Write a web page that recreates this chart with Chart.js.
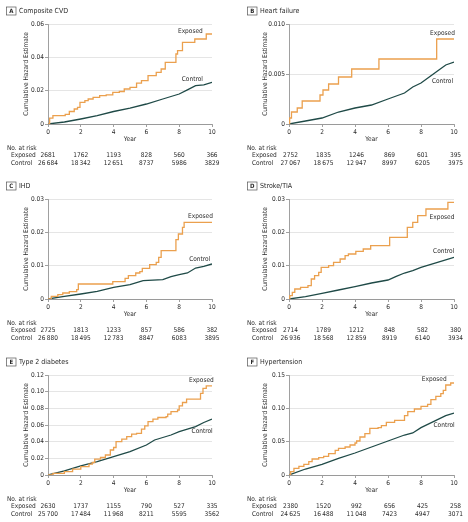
<!DOCTYPE html>
<html>
<head>
<meta charset="utf-8">
<script src="https://cdn.jsdelivr.net/npm/chart.js@4/dist/chart.umd.min.js"></script>
<style>
  body { margin: 0; background: #fff; width: 468px; height: 522px; position: relative; overflow: hidden; }
  canvas { position: absolute; }
</style>
</head>
<body>
<canvas id="pA" width="234" height="175" style="left:0;top:0"></canvas>
<canvas id="pB" width="234" height="175" style="left:234px;top:0"></canvas>
<canvas id="pC" width="234" height="175" style="left:0;top:175px"></canvas>
<canvas id="pD" width="234" height="175" style="left:234px;top:175px"></canvas>
<canvas id="pE" width="234" height="175" style="left:0;top:351px"></canvas>
<canvas id="pF" width="234" height="175" style="left:234px;top:351px"></canvas>
<script>
// Year ticks used for the number-at-risk table
const riskYears = [0, 2, 4, 6, 8, 10];

// A Composite CVD
const expAYears = [0, 0.1, 0.3, 1.05, 1.3, 1.6, 1.8, 1.95, 2.25, 2.45, 2.75, 3.15, 3.55, 3.95, 4.35, 4.65, 5.0, 5.4, 5.7, 6.1, 6.6, 6.9, 7.15, 7.8, 7.9, 8.2, 8.95, 9.65, 10];
const expAHaz = [0, 0.0035, 0.005, 0.0058, 0.0075, 0.009, 0.010, 0.013, 0.014, 0.015, 0.016, 0.017, 0.0175, 0.019, 0.0195, 0.021, 0.022, 0.0245, 0.026, 0.029, 0.031, 0.033, 0.037, 0.042, 0.044, 0.049, 0.051, 0.054, 0.054];
const ctlAYears = [0, 1, 2, 3, 4, 5, 6, 7, 7.5, 8, 8.5, 9, 9.5, 10];
const ctlAHaz = [0, 0.0012, 0.003, 0.005, 0.0075, 0.0095, 0.012, 0.015, 0.0165, 0.018, 0.0205, 0.023, 0.0235, 0.025];
const riskAExp = ['2681', '1762', '1193', '828', '560', '366'];
const riskACtl = ['26\u2009684', '18\u2009342', '12\u2009651', '8737', '5986', '3829'];

// B Heart failure
const expBYears = [0, 0.04, 0.15, 0.5, 0.8, 1.88, 2.06, 2.4, 3.0, 3.8, 5.45, 8.95, 10];
const expBHaz = [0, 0.0006, 0.0012, 0.0016, 0.0023, 0.0029, 0.0034, 0.0040, 0.0047, 0.0055, 0.0065, 0.0085, 0.0085];
const ctlBYears = [0, 1, 2, 3, 4, 5, 6, 7, 7.5, 8, 8.5, 9, 9.5, 10];
const ctlBHaz = [0, 0.0003, 0.0006, 0.0012, 0.0016, 0.0019, 0.0025, 0.0031, 0.0037, 0.0041, 0.0047, 0.0053, 0.0059, 0.0062];
const riskBExp = ['2752', '1835', '1246', '869', '601', '395'];
const riskBCtl = ['27\u2009067', '18\u2009675', '12\u2009947', '8997', '6205', '3975'];

// C IHD
const expCYears = [0, 0.2, 0.6, 0.9, 1.3, 1.75, 1.85, 3.95, 4.7, 4.9, 5.35, 5.6, 5.75, 6.2, 6.6, 6.75, 6.9, 7.8, 7.95, 8.2, 8.3, 10];
const expCHaz = [0, 0.0008, 0.0013, 0.0018, 0.0022, 0.0028, 0.0045, 0.0052, 0.0062, 0.007, 0.0078, 0.0082, 0.0092, 0.0103, 0.011, 0.0125, 0.0145, 0.0178, 0.0195, 0.0215, 0.023, 0.023];
const ctlCYears = [0, 1, 2, 3, 4, 5, 5.8, 7, 7.5, 8, 8.5, 9, 9.5, 10];
const ctlCHaz = [0, 0.0008, 0.0015, 0.0023, 0.0035, 0.0043, 0.0055, 0.0058, 0.0067, 0.0073, 0.0078, 0.0093, 0.0098, 0.0105];
const riskCExp = ['2725', '1813', '1233', '857', '586', '382'];
const riskCCtl = ['26\u2009880', '18\u2009495', '12\u2009783', '8847', '6083', '3895'];

// D Stroke/TIA
const expDYears = [0, 0.05, 0.2, 0.35, 0.7, 1.15, 1.35, 1.55, 1.8, 1.95, 2.4, 2.7, 3.1, 3.4, 3.6, 4.05, 4.5, 4.95, 6.1, 7.17, 7.5, 7.8, 8.3, 9.63, 10];
const expDHaz = [0, 0.001, 0.002, 0.003, 0.0035, 0.004, 0.006, 0.007, 0.008, 0.0095, 0.010, 0.011, 0.012, 0.013, 0.0135, 0.0143, 0.015, 0.016, 0.0185, 0.0215, 0.023, 0.025, 0.027, 0.029, 0.029];
const ctlDYears = [0, 1, 2, 3, 4, 5, 6, 6.5, 7, 7.5, 8, 9, 10];
const ctlDHaz = [0, 0.0007, 0.0017, 0.0027, 0.0037, 0.0048, 0.0057, 0.0068, 0.0078, 0.0085, 0.0095, 0.011, 0.0125];
const riskDExp = ['2714', '1789', '1212', '848', '582', '380'];
const riskDCtl = ['26\u2009936', '18\u2009568', '12\u2009859', '8919', '6140', '3934'];

// E Type 2 diabetes
const expEYears = [0, 0.3, 1.0, 1.5, 2.0, 2.5, 2.7, 2.85, 3.2, 3.5, 3.8, 4.0, 4.15, 4.5, 4.8, 5.1, 5.4, 5.7, 5.9, 6.1, 6.4, 6.7, 7.2, 7.3, 7.5, 7.9, 8.0, 8.2, 8.45, 9.3, 9.45, 9.65, 10];
const expEHaz = [0, 0.002, 0.004, 0.007, 0.010, 0.013, 0.015, 0.019, 0.021, 0.024, 0.030, 0.033, 0.040, 0.043, 0.046, 0.049, 0.050, 0.055, 0.059, 0.064, 0.067, 0.069, 0.070, 0.073, 0.076, 0.078, 0.083, 0.087, 0.091, 0.098, 0.104, 0.107, 0.107];
const ctlEYears = [0, 1, 2, 3, 4, 5, 6, 6.5, 7, 7.5, 8, 8.5, 9, 9.5, 10];
const ctlEHaz = [0, 0.005, 0.011, 0.016, 0.022, 0.028, 0.036, 0.042, 0.045, 0.048, 0.052, 0.055, 0.058, 0.063, 0.067];
const riskEExp = ['2630', '1737', '1155', '790', '527', '335'];
const riskECtl = ['25\u2009700', '17\u2009484', '11\u2009968', '8211', '5595', '3562'];

// F Hypertension
const expFYears = [0, 0.1, 0.3, 0.6, 0.9, 1.2, 1.4, 1.8, 2.1, 2.4, 2.8, 3.0, 3.4, 3.7, 4.0, 4.1, 4.3, 4.6, 4.9, 5.4, 5.6, 5.9, 6.4, 7.0, 7.2, 7.6, 8.0, 8.4, 8.6, 8.9, 9.2, 9.35, 9.5, 9.8, 10];
const expFHaz = [0, 0.005, 0.010, 0.013, 0.016, 0.020, 0.024, 0.026, 0.028, 0.032, 0.037, 0.040, 0.042, 0.045, 0.048, 0.051, 0.057, 0.062, 0.070, 0.071, 0.074, 0.079, 0.082, 0.089, 0.095, 0.099, 0.103, 0.106, 0.113, 0.118, 0.122, 0.127, 0.135, 0.138, 0.138];
const ctlFYears = [0, 1, 2, 3, 4, 5, 6, 7, 7.5, 8, 8.5, 9, 9.5, 10];
const ctlFHaz = [0, 0.009, 0.016, 0.025, 0.033, 0.042, 0.051, 0.060, 0.063, 0.071, 0.077, 0.083, 0.089, 0.093];
const riskFExp = ['2380', '1520', '992', '656', '425', '258'];
const riskFCtl = ['24\u2009625', '16\u2009488', '11\u2009048', '7423', '4947', '3071'];

const EXP_COLOR = '#EBA04E';
const CTL_COLOR = '#1F4A47';
const TEXT = '#2a2a2a';
const FONT = "'Liberation Sans Narrow', 'DejaVu Sans Condensed', 'Liberation Sans', sans-serif";

// panel setup: col 0 = left column, col 1 = right column
const panels = [
  {id: 'pA', tag: 'A', title: 'Composite CVD', col: 0, yMax: 0.06, yStep: 0.02, dec: 2,
   expT: expAYears, expV: expAHaz, ctlT: ctlAYears, ctlV: ctlAHaz, riskExp: riskAExp, riskCtl: riskACtl,
   expLabel: [8.68, 0.0554], ctlLabel: [8.8, 0.0268]},
  {id: 'pB', tag: 'B', title: 'Heart failure', col: 1, yMax: 0.010, yStep: 0.005, dec: 3,
   expT: expBYears, expV: expBHaz, ctlT: ctlBYears, ctlV: ctlBHaz, riskExp: riskBExp, riskCtl: riskBCtl,
   expLabel: [9.3, 0.0091], ctlLabel: [9.3, 0.0043]},
  {id: 'pC', tag: 'C', title: 'IHD', col: 0, yMax: 0.03, yStep: 0.01, dec: 2,
   expT: expCYears, expV: expCHaz, ctlT: ctlCYears, ctlV: ctlCHaz, riskExp: riskCExp, riskCtl: riskCCtl,
   expLabel: [9.3, 0.0248], ctlLabel: [9.25, 0.012]},
  {id: 'pD', tag: 'D', title: 'Stroke/TIA', col: 1, yMax: 0.03, yStep: 0.01, dec: 2,
   expT: expDYears, expV: expDHaz, ctlT: ctlDYears, ctlV: ctlDHaz, riskExp: riskDExp, riskCtl: riskDCtl,
   expLabel: [9.27, 0.0244], ctlLabel: [9.37, 0.0144]},
  {id: 'pE', tag: 'E', title: 'Type 2 diabetes', col: 0, yMax: 0.12, yStep: 0.02, dec: 2,
   expT: expEYears, expV: expEHaz, ctlT: ctlEYears, ctlV: ctlEHaz, riskExp: riskEExp, riskCtl: riskECtl,
   expLabel: [9.35, 0.114], ctlLabel: [9.4, 0.052]},
  {id: 'pF', tag: 'F', title: 'Hypertension', col: 1, yMax: 0.15, yStep: 0.05, dec: 2,
   expT: expFYears, expV: expFHaz, ctlT: ctlFYears, ctlV: ctlFHaz, riskExp: riskFExp, riskCtl: riskFCtl,
   expLabel: [8.8, 0.144], ctlLabel: [9.4, 0.074]}
];

// layout per column
const colLayout = [
  {axisW: 48, padRight: 22, tagX: 6.5, yTitleX: 26, riskX: 7, rowX: 11, numShift: 0},
  {axisW: 55, padRight: 14, tagX: 13.5, yTitleX: 31, riskX: 13, rowX: 18, numShift: 1.5}
];

function font(size, weight) {
  return (weight || 'normal') + ' ' + size + 'px ' + FONT;
}

// Draw panel tag, axis titles, line labels and number-at-risk table
function panelText(p) {
  const L = colLayout[p.col];
  return {
    id: 'panelText',
    afterDraw(chart) {
      const ctx = chart.ctx;
      const xs = chart.scales.x;
      const ys = chart.scales.y;
      const area = chart.chartArea;
      ctx.save();
      ctx.fillStyle = TEXT;
      ctx.textBaseline = 'middle';

      // tag box + title
      ctx.strokeStyle = '#555';
      ctx.lineWidth = 0.7;
      ctx.strokeRect(L.tagX, 7, 9.5, 8);
      ctx.textAlign = 'center';
      ctx.font = font(6, 'bold');
      ctx.fillText(p.tag, L.tagX + 4.75, 11.2);
      ctx.textAlign = 'left';
      ctx.font = font(7);
      ctx.fillText(p.title, L.tagX + 12.5, 11.2);

      // y title
      ctx.save();
      ctx.translate(L.yTitleX, (area.top + area.bottom) / 2);
      ctx.rotate(-Math.PI / 2);
      ctx.textAlign = 'center';
      ctx.font = font(6.5);
      ctx.fillText('Cumulative Hazard Estimate', 0, 0);
      ctx.restore();

      // x title
      ctx.textAlign = 'center';
      ctx.font = font(6.5);
      ctx.fillText('Year', (area.left + area.right) / 2, area.bottom + 15);

      // line labels
      ctx.fillText('Exposed', xs.getPixelForValue(p.expLabel[0]), ys.getPixelForValue(p.expLabel[1]));
      ctx.fillText('Control', xs.getPixelForValue(p.ctlLabel[0]), ys.getPixelForValue(p.ctlLabel[1]));

      // number at risk
      const y0 = area.bottom + 24.5;
      ctx.textAlign = 'left';
      ctx.fillText('No. at risk', L.riskX, y0);
      ctx.fillText('Exposed', L.rowX, y0 + 7);
      ctx.fillText('Control', L.rowX, y0 + 14.5);
      ctx.textAlign = 'center';
      riskYears.forEach((yr, i) => {
        const x = xs.getPixelForValue(yr) + L.numShift;
        ctx.fillText(p.riskExp[i], x, y0 + 7);
        ctx.fillText(p.riskCtl[i], x, y0 + 14.5);
      });
      ctx.restore();
    }
  };
}

function toPoints(t, v) {
  return t.map((x, i) => ({x: x, y: v[i]}));
}

function makePanel(p) {
  const L = colLayout[p.col];
  new Chart(document.getElementById(p.id), {
    type: 'line',
    data: {
      datasets: [
        {label: 'Exposed', data: toPoints(p.expT, p.expV), borderColor: EXP_COLOR, borderWidth: 1.3,
         stepped: true, pointRadius: 0, fill: false},
        {label: 'Control', data: toPoints(p.ctlT, p.ctlV), borderColor: CTL_COLOR, borderWidth: 1.3,
         tension: 0, pointRadius: 0, fill: false}
      ]
    },
    options: {
      responsive: false,
      animation: false,
      devicePixelRatio: 1,
      layout: {padding: {left: 0, right: L.padRight, top: 24, bottom: 0}},
      plugins: {legend: {display: false}, tooltip: {enabled: false}},
      scales: {
        x: {
          type: 'linear', min: 0, max: 10,
          afterFit: (s) => { s.height = 51; },
          ticks: {stepSize: 2, maxRotation: 0, padding: 1, color: TEXT, font: {family: FONT, size: 6.5}},
          grid: {drawOnChartArea: false, tickLength: 3, color: '#888', lineWidth: 0.8},
          border: {color: '#888', width: 0.8}
        },
        y: {
          min: 0, max: p.yMax,
          afterFit: (s) => { s.width = L.axisW; },
          ticks: {
            stepSize: p.yStep, padding: 1, color: TEXT, font: {family: FONT, size: 6.5},
            callback: (v) => Math.abs(v) < 1e-9 ? '0' : v.toFixed(p.dec)
          },
          grid: {color: '#dedede', lineWidth: 0.8, tickLength: 3, tickColor: '#888'},
          border: {color: '#888', width: 0.8}
        }
      }
    },
    plugins: [panelText(p)]
  });
}

panels.forEach(makePanel);
</script>
</body>
</html>
